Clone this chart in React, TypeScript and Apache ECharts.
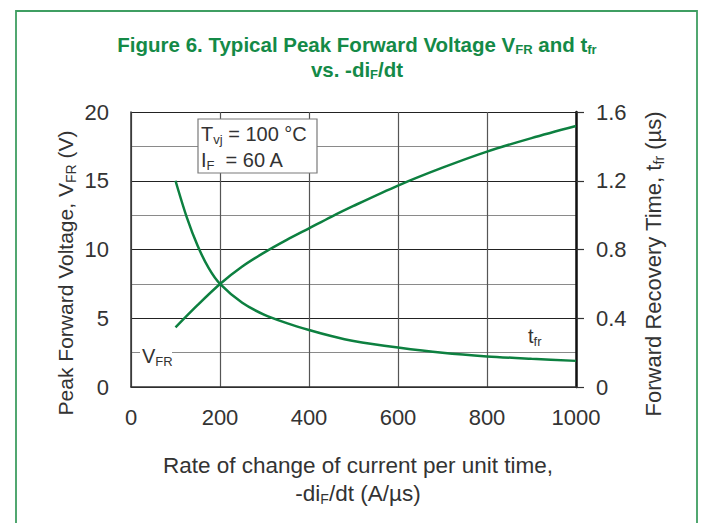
import React, { useEffect, useRef } from "react";
import * as echarts from "echarts";

const xTicks = [0, 200, 400, 600, 800, 1000];
const vfrX = [100, 150, 200, 250, 300, 350, 400, 450, 500, 600, 700, 800, 900, 1000];
const vfrY = [4.34, 5.97, 7.49, 8.76, 9.79, 10.7, 11.54, 12.38, 13.17, 14.65, 15.95, 17.12, 18.1, 18.98];
const tfrX = [100, 125, 150, 175, 200, 250, 300, 350, 400, 450, 500, 600, 700, 800, 900, 1000];
const tfrY = [1.2, 0.99, 0.82, 0.69, 0.6, 0.49, 0.42, 0.372, 0.332, 0.297, 0.268, 0.23, 0.199, 0.178, 0.164, 0.152];

const GREEN = "#0d8040";
const TXT = "#333333";
const FONT = "'Liberation Sans', Arial, sans-serif";

export default function App() {
  const ref = useRef<HTMLDivElement>(null);
  useEffect(() => {
    if (!ref.current) return;
    const chart = echarts.init(ref.current, undefined, { renderer: "svg" });
    const titleFont = "'Liberation Sans', Arial, sans-serif";
    const sub = (size: number) => ({ s: { fontSize: size, fontFamily: FONT, fill: TXT, padding: [11, 0, 0, 0] } });
    chart.setOption({
      animation: false,
      backgroundColor: "#ffffff",
      textStyle: { fontFamily: FONT },
      grid: { left: 131, right: 131, top: 112, bottom: 136, containLabel: false },
      xAxis: {
        type: "value",
        min: 0,
        max: 1000,
        interval: 200,
        axisLine: { show: true, lineStyle: { color: "#333", width: 1.5 } },
        axisTick: { show: false },
        axisLabel: {
          fontSize: 22,
          color: TXT,
          margin: 19,
          fontFamily: FONT,
          formatter: (v: number) => (xTicks.includes(v) ? String(v) : ""),
        },
        splitLine: { show: true, lineStyle: { color: "#555", width: 1.2 } },
      },
      yAxis: [
        {
          type: "value",
          min: 0,
          max: 20,
          interval: 5,
          position: "left",
          axisLine: { show: true, lineStyle: { color: "#333", width: 1.5 } },
          axisTick: { show: false },
          minorTick: { show: false, splitNumber: 2 },
          axisLabel: { fontSize: 22, color: TXT, margin: 22, fontFamily: FONT },
          splitLine: { show: true, lineStyle: { color: "#222", width: 1.2 } },
          minorSplitLine: { show: true, lineStyle: { color: "#8a8a8a", width: 1.2 } },
        },
        {
          type: "value",
          min: 0,
          max: 1.6,
          interval: 0.4,
          position: "right",
          axisLine: { show: true, lineStyle: { color: "#111", width: 2.5 } },
          axisTick: { show: true, inside: false, length: 8, lineStyle: { color: "#333", width: 1.2 } },
          axisLabel: {
            fontSize: 22,
            color: TXT,
            margin: 20,
            fontFamily: FONT,
            formatter: (v: number) => (v === 0 ? "0" : v.toFixed(1)),
          },
          splitLine: { show: false },
        },
      ],
      series: [
        {
          name: "VFR",
          type: "line",
          yAxisIndex: 0,
          smooth: 0.3,
          symbol: "none",
          lineStyle: { color: GREEN, width: 2.5 },
          data: vfrX.map((x, i) => [x, vfrY[i]]),
        },
        {
          name: "tfr",
          type: "line",
          yAxisIndex: 1,
          smooth: 0.3,
          symbol: "none",
          lineStyle: { color: GREEN, width: 2.5 },
          data: tfrX.map((x, i) => [x, tfrY[i]]),
        },
      ],
      graphic: [
        {
          type: "rect",
          shape: { x: 16, y: 11, width: 681, height: 600 },
          style: { fill: "none", stroke: "#3f9e62", lineWidth: 1.8 },
          silent: true,
        },
        {
          type: "text",
          x: 357,
          y: 44,
          style: {
            text: "Figure 6. Typical Peak Forward Voltage V{s|FR} and t{s|fr}",
            fontSize: 20.5,
            fontWeight: "bold",
            fontFamily: titleFont,
            fill: "#148a47",
            align: "center",
            verticalAlign: "middle",
            rich: {
              s: { fontSize: 13, fontWeight: "bold", fontFamily: titleFont, fill: "#148a47", padding: [11, 0, 0, 0] },
            },
          },
        },
        {
          type: "text",
          x: 357,
          y: 69,
          style: {
            text: "vs. -di{s|F}/dt",
            fontSize: 20.5,
            fontWeight: "bold",
            fontFamily: titleFont,
            fill: "#148a47",
            align: "center",
            verticalAlign: "middle",
            rich: {
              s: { fontSize: 13, fontWeight: "bold", fontFamily: titleFont, fill: "#148a47", padding: [11, 0, 0, 0] },
            },
          },
        },
        {
          type: "text",
          x: 65,
          y: 273,
          rotation: Math.PI / 2,
          style: {
            text: "Peak Forward Voltage, V{s|FR} (V)",
            fontSize: 21,
            fontFamily: FONT,
            fill: TXT,
            align: "center",
            verticalAlign: "middle",
            rich: sub(14),
          },
        },
        {
          type: "text",
          x: 653,
          y: 264,
          rotation: Math.PI / 2,
          style: {
            text: "Forward Recovery Time, t{s|fr} (µs)",
            fontSize: 22,
            fontFamily: FONT,
            fill: TXT,
            align: "center",
            verticalAlign: "middle",
            rich: sub(14),
          },
        },
        {
          type: "text",
          x: 358,
          y: 465,
          style: {
            text: "Rate of change of current per unit time,",
            fontSize: 22.5,
            fontFamily: FONT,
            fill: TXT,
            align: "center",
            verticalAlign: "middle",
          },
        },
        {
          type: "text",
          x: 358,
          y: 493,
          style: {
            text: "-di{s|F}/dt (A/µs)",
            fontSize: 22.5,
            fontFamily: FONT,
            fill: TXT,
            align: "center",
            verticalAlign: "middle",
            rich: sub(14),
          },
        },
        {
          type: "rect",
          shape: { x: 198, y: 119, width: 119, height: 54 },
          style: { fill: "#ffffff", stroke: "#7a7a7a", lineWidth: 1.2 },
          z: 10,
        },
        {
          type: "text",
          x: 201,
          y: 134,
          z: 11,
          style: {
            text: "T{s|vj} = 100 °C",
            fontSize: 20,
            fontFamily: FONT,
            fill: TXT,
            align: "left",
            verticalAlign: "middle",
            rich: sub(13),
          },
        },
        {
          type: "text",
          x: 201,
          y: 160,
          z: 11,
          style: {
            text: "I{s|F}  = 60 A",
            fontSize: 20,
            fontFamily: FONT,
            fill: TXT,
            align: "left",
            verticalAlign: "middle",
            rich: sub(13),
          },
        },
        {
          type: "rect",
          shape: { x: 140, y: 346, width: 32, height: 22 },
          style: { fill: "#ffffff", stroke: "none" },
          z: 10,
        },
        {
          type: "text",
          x: 142,
          y: 356,
          z: 11,
          style: {
            text: "V{s|FR}",
            fontSize: 20,
            fontFamily: FONT,
            fill: TXT,
            align: "left",
            verticalAlign: "middle",
            rich: sub(13),
          },
        },
        {
          type: "text",
          x: 528,
          y: 336,
          z: 11,
          style: {
            text: "t{s|fr}",
            fontSize: 20,
            fontFamily: FONT,
            fill: TXT,
            align: "left",
            verticalAlign: "middle",
            rich: sub(13),
          },
        },
      ],
    });
    return () => chart.dispose();
  }, []);
  return <div ref={ref} style={{ width: 707, height: 523, position: "absolute", left: 0, top: 0 }} />;
}
